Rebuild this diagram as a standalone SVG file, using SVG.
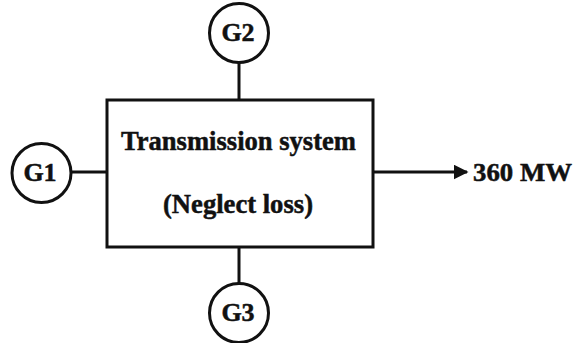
<svg xmlns="http://www.w3.org/2000/svg" width="576" height="343" viewBox="0 0 576 343">
  <style>
    .ln { stroke: #111; stroke-width: 3; fill: none; }
    .gen { stroke: #111; stroke-width: 3; fill: #fff; }
    .t { font-family: "Liberation Serif", "Times New Roman", serif; font-weight: bold; fill: #111; stroke: #111; stroke-width: 0.5; }
  </style>
  <defs>
    <marker id="arrow" viewBox="0 0 10 10" refX="9" refY="5" markerWidth="5" markerHeight="5" markerUnits="strokeWidth" orient="auto">
      <path d="M0,0 L10,5 L0,10 z" fill="#111"/>
    </marker>
  </defs>

  <g id="connectors">
    <line class="ln" x1="239" y1="62" x2="239" y2="100"/>
    <line class="ln" x1="71" y1="172" x2="107" y2="172"/>
    <line class="ln" x1="239" y1="247" x2="239" y2="284"/>
    <line class="ln" x1="373" y1="172" x2="467" y2="172" marker-end="url(#arrow)"/>
  </g>

  <g id="transmission-system">
    <rect class="ln" x="107" y="100" width="266" height="147"/>
    <text class="t" x="121" y="150" font-size="28" textLength="235" lengthAdjust="spacingAndGlyphs">Transmission system</text>
    <text class="t" x="163" y="213" font-size="27" textLength="150" lengthAdjust="spacingAndGlyphs">(Neglect loss)</text>
  </g>

  <g id="G1">
    <circle class="gen" cx="41.5" cy="173" r="29.5"/>
    <text class="t" x="40" y="181" font-size="26" text-anchor="middle">G1</text>
  </g>

  <g id="G2">
    <circle class="gen" cx="239" cy="33" r="29.5"/>
    <text class="t" x="238" y="41" font-size="26" text-anchor="middle">G2</text>
  </g>

  <g id="G3">
    <circle class="gen" cx="239" cy="313" r="29.5"/>
    <text class="t" x="238" y="321" font-size="26" text-anchor="middle">G3</text>
  </g>

  <g id="load">
    <text class="t" x="473" y="181" font-size="26" textLength="99" lengthAdjust="spacingAndGlyphs">360 MW</text>
  </g>
</svg>
